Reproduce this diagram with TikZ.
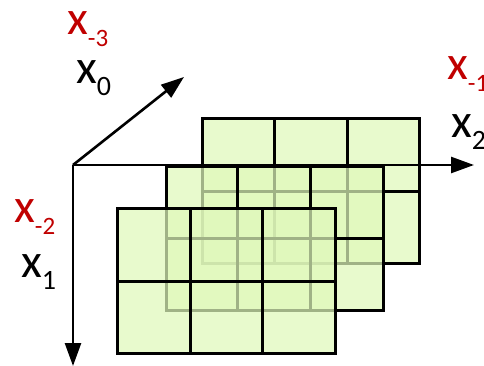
\documentclass[tikz,border=0pt]{standalone}
\usepackage{fontspec}
\setmainfont{Carlito}
\usetikzlibrary{arrows.meta}
\definecolor{layergreen}{RGB}{223,248,186}
\definecolor{labelred}{RGB}{192,0,0}
\newcommand{\subidx}[2][28pt]{\raisebox{-12pt}{\fontsize{#1}{#1}\selectfont #2}}
\begin{document}
\begin{tikzpicture}[x=1pt, y=-1pt,
  maplayer/.style={fill=layergreen, fill opacity=0.72, draw=none},
  gridline/.style={line width=3pt, line cap=rect},
  axisarrow/.style={line width=2.6pt, -{Triangle[length=23pt, width=16pt]}},
  lbl/.style={anchor=base west, inner sep=0pt, font=\fontsize{48pt}{48pt}\selectfont}]
\useasboundingbox (0,0) rectangle (484,366);

% Back feature map
\fill[maplayer] (202,119) rectangle (419,263);
\draw[gridline] (202,119) rectangle (419,263);
\draw[gridline] (274,119) -- (274,263) (347,119) -- (347,263) (202,191) -- (419,191);

% Middle feature map
\fill[maplayer] (166,167) rectangle (383,310);
\draw[gridline] (166,167) rectangle (383,310);
\draw[gridline] (237,167) -- (237,310) (310,167) -- (310,310) (166,238) -- (383,238);

% Front feature map
\fill[maplayer] (117,208) rectangle (335,353);
\draw[gridline] (117,208) rectangle (335,353);
\draw[gridline] (190,208) -- (190,353) (262,208) -- (262,353) (117,281) -- (335,281);

% Axes
\coordinate (origin) at (73,165);
\coordinate (tip0) at (184,77);
\coordinate (tip1) at (73,366);
\coordinate (tip2) at (474,165);
\draw[axisarrow] (origin) -- (tip0);
\draw[axisarrow] (origin) -- (tip1);
\draw[axisarrow] (origin) -- (tip2);

% Labels
\node[lbl, labelred] (xm3) at (67,35) {x\subidx[25pt]{-3}};
\node[lbl] (x0) at (76,84) {x\subidx{0}};
\node[lbl, labelred] (xm1) at (447,80) {x\subidx[25pt]{-1}};
\node[lbl] (x2) at (451,138) {x\subidx{2}};
\node[lbl, labelred] (xm2) at (14,222) {x\subidx[25pt]{-2}};
\node[lbl] (x1) at (21,277) {x\subidx{1}};

\end{tikzpicture}
\end{document}
